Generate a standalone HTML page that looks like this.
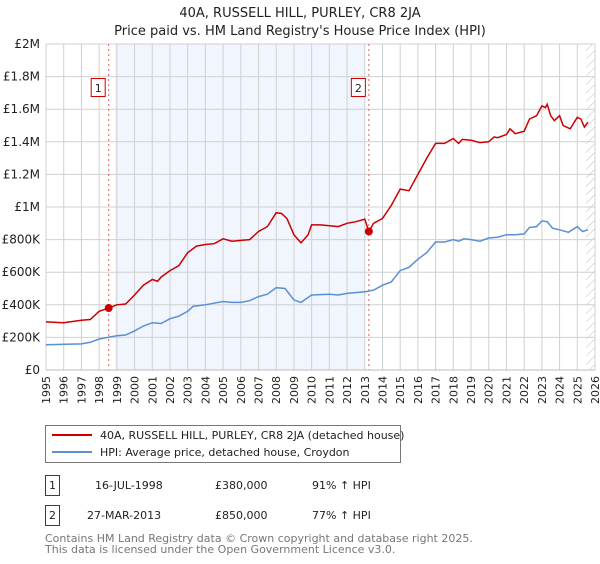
<!DOCTYPE html>
<html><head><meta charset="utf-8"><style>
body{margin:0;background:#fff;font-family:"DejaVu Sans","Liberation Sans",sans-serif;}
svg text{font-family:"DejaVu Sans","Liberation Sans",sans-serif;}
</style></head><body>
<svg id="c" width="600" height="560" xmlns="http://www.w3.org/2000/svg">
<defs><pattern id="hatch" width="6" height="6" patternUnits="userSpaceOnUse" patternTransform="rotate(45)"><line x1="0" y1="0" x2="0" y2="6" stroke="#bbb" stroke-width="1"/></pattern></defs>
<text x="300" y="17" text-anchor="middle" font-size="13" fill="#222">40A, RUSSELL HILL, PURLEY, CR8 2JA</text>
<text x="300" y="35" text-anchor="middle" font-size="13" fill="#222">Price paid vs. HM Land Registry's House Price Index (HPI)</text>
<g id="plot"></g>
<g>
<rect x="45.5" y="425.5" width="355" height="37" fill="#fff" stroke="#777"/>
<line x1="52" y1="435" x2="92" y2="435" stroke="#cc0000" stroke-width="2"/>
<text x="100" y="439" font-size="11" fill="#222">40A, RUSSELL HILL, PURLEY, CR8 2JA (detached house)</text>
<line x1="52" y1="452" x2="92" y2="452" stroke="#5b8fd4" stroke-width="2"/>
<text x="100" y="456" font-size="11" fill="#222">HPI: Average price, detached house, Croydon</text>
</g>
<g font-size="11" fill="#222">
<rect x="45.5" y="475.5" width="14" height="20" fill="#fff" stroke="#cc0000"/>
<text x="52.5" y="489" text-anchor="middle">1</text>
<text x="95" y="489">16-JUL-1998</text><text x="215" y="489">£380,000</text><text x="312" y="489">91% ↑ HPI</text>
<rect x="45.5" y="505.5" width="14" height="20" fill="#fff" stroke="#cc0000"/>
<text x="52.5" y="519" text-anchor="middle">2</text>
<text x="87" y="519">27-MAR-2013</text><text x="215" y="519">£850,000</text><text x="312" y="519">77% ↑ HPI</text>
</g>
<text x="45" y="542" font-size="11" fill="#777">Contains HM Land Registry data © Crown copyright and database right 2025.</text>
<text x="45" y="553" font-size="11" fill="#777">This data is licensed under the Open Government Licence v3.0.</text>
</svg>
<script>
const redT=[1995,1996,1997,1997.5,1998,1998.54,1999,1999.5,2000,2000.5,2001,2001.3,2001.5,2002,2002.5,2003,2003.5,2004,2004.5,2005,2005.5,2006,2006.5,2007,2007.5,2008,2008.3,2008.6,2009,2009.4,2009.8,2010,2010.5,2011,2011.5,2012,2012.5,2013,2013.23,2013.5,2014,2014.5,2015,2015.5,2016,2016.5,2017,2017.5,2018,2018.3,2018.5,2019,2019.5,2020,2020.3,2020.5,2021,2021.2,2021.5,2022,2022.3,2022.7,2023,2023.2,2023.3,2023.5,2023.7,2024,2024.2,2024.6,2025,2025.2,2025.4,2025.6];
const redV=[295,290,305,310,360,380,400,405,460,520,555,545,570,610,640,720,760,770,775,805,790,795,800,850,880,965,960,930,830,780,830,890,890,885,880,900,910,925,850,900,930,1010,1110,1100,1200,1300,1390,1390,1420,1390,1415,1410,1395,1400,1430,1425,1445,1480,1450,1465,1540,1560,1620,1610,1630,1560,1530,1560,1500,1480,1550,1540,1490,1520];
const hpiT=[1995,1997,1997.5,1998,1999,1999.5,2000,2000.5,2001,2001.5,2002,2002.5,2003,2003.3,2004,2005,2005.5,2006,2006.5,2007,2007.5,2008,2008.5,2009,2009.4,2010,2011,2011.5,2012,2013,2013.5,2014,2014.5,2015,2015.5,2016,2016.5,2017,2017.5,2018,2018.3,2018.6,2019,2019.5,2020,2020.5,2021,2021.5,2022,2022.3,2022.7,2023,2023.3,2023.6,2024,2024.5,2025,2025.3,2025.6];
const hpiV=[155,160,170,190,210,215,240,270,290,285,315,330,360,390,400,420,415,415,425,450,465,505,500,430,415,460,465,460,470,480,490,520,540,610,630,680,720,785,785,800,790,805,800,790,810,815,830,830,835,875,880,915,910,870,860,845,880,850,860];
const sales=[{t:1998.54,v:380,n:"1"},{t:2013.23,v:850,n:"2"}];
const yTicks=[0,200,400,600,800,1000,1200,1400,1600,1800,2000];
const yLabels=["£0","£200K","£400K","£600K","£800K","£1M","£1.2M","£1.4M","£1.6M","£1.8M","£2M"];
const years=[];for(let y=1995;y<=2026;y++)years.push(y);
const X0=46,X1=595,Y0=370,Y1=44;
const x=t=>X0+(t-1995)/(2026-1995)*(X1-X0);
const y=v=>Y0-v/2000*(Y0-Y1);
const NS="http://www.w3.org/2000/svg";
const g=document.getElementById('plot');
function mk(tag,a){const e=document.createElementNS(NS,tag);for(const k in a)e.setAttribute(k,a[k]);g.appendChild(e);return e;}
let sh=mk('rect',{x:x(1998.9),y:Y1,width:x(2013.0)-x(1998.9),height:Y0-Y1,fill:'#eef3fc',opacity:0.8});


let ht=mk('rect',{x:x(2025.5),y:Y1,width:X1-x(2025.5),height:Y0-Y1,fill:'url(#hatch)'});


years.forEach(yr=>{
 let l=mk('line',{x1:x(yr),x2:x(yr),y1:Y1,y2:Y0,stroke:'#d0d0d0','stroke-width':1});
 
 
 let t=mk('text',{x:0,y:0,'font-size':11,fill:'#222','text-anchor':'end',transform:`translate(${x(yr)+4},${Y0+6}) rotate(-90)`});
 t.textContent=yr;
 
 
});
yTicks.forEach((v,i)=>{
 let l=mk('line',{x1:X0,x2:X1,y1:y(v),y2:y(v),stroke:'#d0d0d0','stroke-width':1});
 
 
 let t=mk('text',{x:X0-6,y:y(v)+4,'font-size':12,fill:'#222','text-anchor':'end'});
 t.textContent=yLabels[i];
 
 
});
sales.forEach(s=>{
 let l=mk('line',{x1:x(s.t),x2:x(s.t),y1:Y1,y2:Y0,stroke:'#e06060','stroke-width':1,'stroke-dasharray':'2,3'});
 
 
});
function path(T,V,col,name){
 let d=T.map((t,i)=>(i?'L':'M')+x(t).toFixed(1)+','+y(V[i]).toFixed(1)).join('');
 let p=mk('path',{d:d,fill:'none',stroke:col,'stroke-width':1.5});
 
 
}
path(hpiT,hpiV,'#5b8fd4','hpi-line');
path(redT,redV,'#cc0000','property-price-line');
sales.forEach(s=>{
 let c=mk('circle',{cx:x(s.t),cy:y(s.v),r:4,fill:'#cc0000'});
 
 
 let b=mk('rect',{x:x(s.t)-17.5,y:78.5,width:14,height:18,fill:'#fff',stroke:'#cc0000'});
 
 
 let t=mk('text',{x:x(s.t)-10.5,y:92,'font-size':11,fill:'#222','text-anchor':'middle'});
 t.textContent=s.n;
 
 
});
let ax=mk('line',{x1:X0,x2:X1,y1:Y0,y2:Y0,stroke:'#bbb'});


</script>
</body></html>
